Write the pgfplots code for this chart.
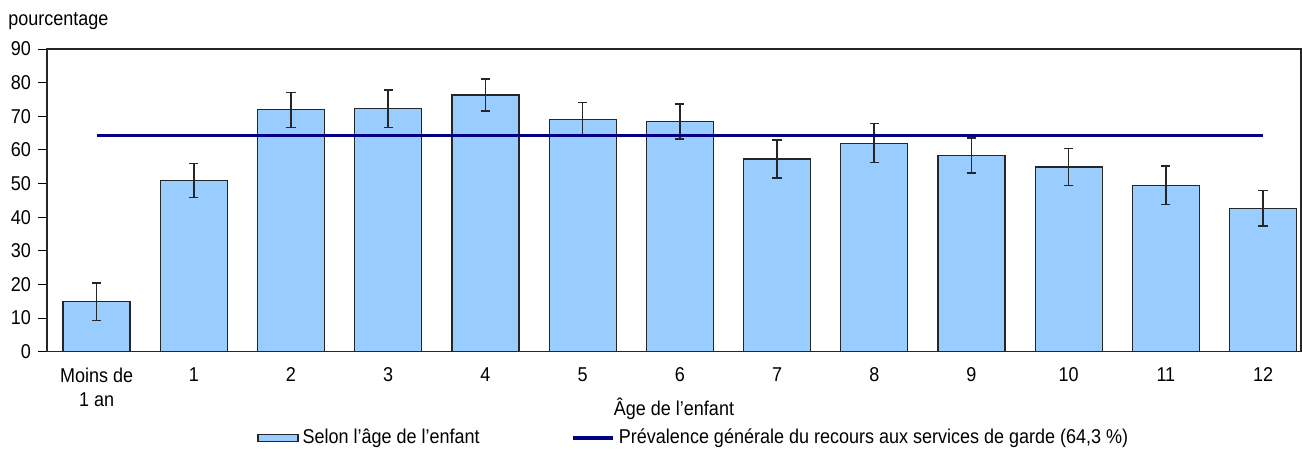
\documentclass[border=0pt]{standalone}
\usepackage{fontspec}
\setmainfont{Liberation Sans}[FakeStretch=0.9]
\usepackage{pgfplots}
\pgfplotsset{compat=1.18}

\definecolor{barblue}{RGB}{153,204,255}
\definecolor{navyline}{RGB}{0,0,128}

% valeur, demi-intervalle de confiance
\pgfplotstableread{
x  y     err
0  14.9  5.6
1  50.9  5.1
2  71.9  5.2
3  72.3  5.6
4  76.3  4.8
5  69.1  5.0
6  68.4  5.2
7  57.3  5.6
8  62.0  5.8
9  58.4  5.2
10 54.9  5.5
11 49.5  5.7
12 42.6  5.3
}\agedata

\begin{document}
\begin{tikzpicture}
\useasboundingbox (0,0) rectangle (651pt,227pt);
\begin{axis}[
    at={(23.5pt,51.15pt)}, anchor=south west,
    scale only axis,
    width=627pt, height=151.35pt,
    font=\fontsize{10}{12}\selectfont,
    /pgf/number format/assume math mode=true,
    xmin=-0.51, xmax=12.39,
    ymin=0, ymax=90,
    ytick={0,10,...,90},
    xtick={0,...,12},
    xticklabels={{Moins de\\1 an},1,2,3,4,5,6,7,8,9,10,11,12},
    xticklabel style={align=center, yshift=0pt},
    x tick style={draw=none},
    y tick style={black, line width=0.5pt},
    tick align=outside,
    major tick length=4.5pt,
    axis line style={line width=0.6pt, black!85},
    ylabel={pourcentage},
    ylabel style={rotate=-90, at={(axis description cs:-0.0311,1.0793)}, anchor=base west, inner sep=0pt},
    xlabel={Âge de l’enfant},
    xlabel style={at={(axis description cs:0.5,-0.212)}, anchor=base, inner sep=0pt},
    legend columns=2,
    legend style={draw=none, fill=none, at={(axis description cs:0.1675,-0.285)}, anchor=west,
        inner sep=0pt, font=\fontsize{10}{12}\selectfont,
        /tikz/every even column/.append style={column sep=44pt}},
    legend cell align=left,
]
\addplot[ybar, bar width=33.5pt, fill=barblue, draw=black!85, line width=0.6pt,
    legend image code/.code={\draw[fill=barblue, draw=black!85, line width=0.6pt] (0pt,-1.75pt) rectangle (20pt,1.75pt);},
    error bars/.cd, y dir=both, y explicit,
    error bar style={line width=0.8pt, black!85},
    error mark options={rotate=90, mark size=2.3pt, line width=0.8pt, black!85}]
    table[x=x, y=y, y error=err] {\agedata};
\addlegendentry{Selon l’âge de l’enfant}
\addplot[navyline, line width=1.9pt, mark=none,
    legend image code/.code={\draw[navyline, line width=1.6pt] (0pt,0pt) -- (20pt,0pt);}]
    coordinates {(0,64.3) (12,64.3)};
\addlegendentry{Prévalence générale du recours aux services de garde (64,3 \%)}
\end{axis}
\end{tikzpicture}
\end{document}
